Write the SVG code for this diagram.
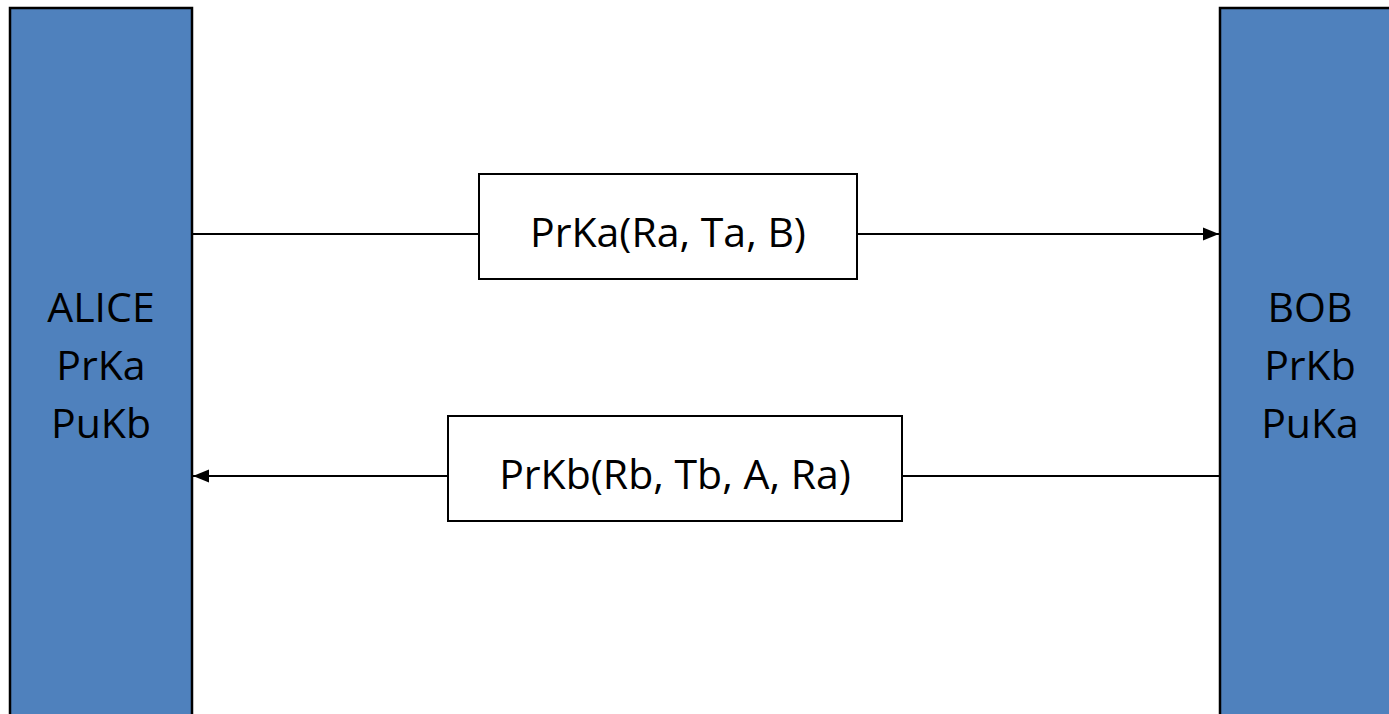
<svg xmlns="http://www.w3.org/2000/svg" width="1389" height="714" viewBox="0 0 1389 714">
<style>
.party{fill:#4F81BD;stroke:#000;stroke-width:2.5}
.msg{fill:#fff;stroke:#000;stroke-width:2}
.t{font-family:"Open Sans","Liberation Sans",sans-serif;font-size:41px;fill:#000;text-anchor:middle}
.c{stroke:#000;stroke-width:2;fill:none}
</style>
<defs>
<marker id="ah" viewBox="0 0 10 10" refX="10" refY="5" markerWidth="16" markerHeight="16" markerUnits="userSpaceOnUse" orient="auto">
<path d="M0,1 L10,5 L0,9 z" fill="#000"/>
</marker>
</defs>
<rect width="1389" height="714" fill="#fff"/>
<g id="connectors">
<line class="c" x1="192" y1="234" x2="479" y2="234"/>
<line class="c" x1="857" y1="234" x2="1219" y2="234" marker-end="url(#ah)"/>
<line class="c" x1="1220" y1="476" x2="902" y2="476"/>
<line class="c" x1="448" y1="476" x2="193" y2="476" marker-end="url(#ah)"/>
</g>
<g id="alice">
<rect class="party" x="10" y="8" width="182" height="720"/>
<text class="t" x="101" y="322">ALICE</text>
<text class="t" x="101" y="380">PrKa</text>
<text class="t" x="101" y="438">PuKb</text>
</g>
<g id="bob">
<rect class="party" x="1220" y="8" width="182" height="720"/>
<text class="t" x="1310" y="322">BOB</text>
<text class="t" x="1310" y="380">PrKb</text>
<text class="t" x="1310" y="438">PuKa</text>
</g>
<g id="msg1">
<rect class="msg" x="479" y="174" width="378" height="105"/>
<text class="t" x="668" y="247">PrKa(Ra, Ta, B)</text>
</g>
<g id="msg2">
<rect class="msg" x="448" y="416" width="454" height="105"/>
<text class="t" x="675" y="489">PrKb(Rb, Tb, A, Ra)</text>
</g>
</svg>
